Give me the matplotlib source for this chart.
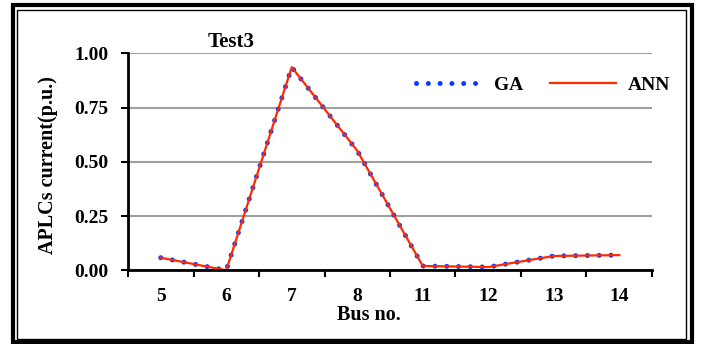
import numpy as np
import matplotlib
matplotlib.use("Agg")
import matplotlib.pyplot as plt
from matplotlib.patches import Rectangle

# data
buses = ['5', '6', '7', '8', '11', '12', '13', '14']
ga_current = [0.058, 0.0, 0.936, 0.551, 0.02, 0.015, 0.066, 0.07]
ann_current = [0.058, 0.0, 0.936, 0.551, 0.02, 0.015, 0.066, 0.07]

W, H = 704, 344
plt.rcParams['font.family'] = ['Liberation Serif', 'DejaVu Serif']
plt.rcParams['font.weight'] = 'bold'

fig = plt.figure(figsize=(W / 100, H / 100), dpi=100)
ax = fig.add_axes([128 / W, 1 - 270.3 / H, (652 - 128) / W, (270.3 - 53.3) / H])

x = np.arange(len(buses))
# GA: thick round-dot line, dots every ~11.7 px
ax.plot(x, ga_current, color='#0a3cff', lw=3.6, linestyle=(0, (0.01, 2.35)),
        dash_capstyle='round', label='GA', zorder=3)
ax.plot(x, ann_current, color='#ff2a00', lw=1.6, label='ANN', zorder=4)

ax.set_xlim(-0.5, len(buses) - 0.5)
ax.set_ylim(0, 1.0)
ax.set_yticks([0, 0.25, 0.5, 0.75, 1.0])
ax.set_yticklabels(['0.00', '0.25', '0.50', '0.75', '1.00'])
ax.set_xticks(x)
ax.set_xticklabels(buses)
ax.set_xticks(np.arange(-0.5, len(buses)), minor=True)
ax.tick_params(axis='x', which='major', length=0, pad=13, labelsize=14)
ax.tick_params(axis='x', which='minor', length=5, width=1.5, direction='out')
ax.tick_params(axis='y', length=5, width=1.5, direction='out', pad=9, labelsize=14)

ax.grid(axis='y', color='#a0a0a0', lw=1.5, zorder=0)
ax.set_axisbelow(True)
for s in ['top', 'right']:
    ax.spines[s].set_visible(False)
for s in ['left', 'bottom']:
    ax.spines[s].set_linewidth(2)
    ax.spines[s].set_zorder(5)

fig.text(369 / W, 1 - 315 / H, 'Bus no.', ha='center', va='center', fontsize=14.5, fontweight='bold')
fig.text(48 / W, 1 - 165 / H, 'APLCs current(p.u.)', ha='center', va='center',
         rotation=90, fontsize=14.5, fontweight='bold')
fig.text(231 / W, 1 - 42 / H, 'Test3', ha='center', va='center', fontsize=15, fontweight='bold')

ax.legend(loc='center left', bbox_to_anchor=(416 / W, 1 - 85 / H), bbox_transform=fig.transFigure,
          ncol=2, frameon=False, fontsize=14, handlelength=3.4, handletextpad=0.6,
          columnspacing=1.4, borderpad=0, borderaxespad=0)

# double frame around the chart
fig.patches.append(Rectangle((13 / W, 1 - 342.2 / H), (691.5 - 13) / W, (342.2 - 5.3) / H,
                             transform=fig.transFigure, fill=False, lw=3, ec='black'))
fig.patches.append(Rectangle((17.3 / W, 1 - 339 / H), (686 - 17.3) / W, (339 - 10) / H,
                             transform=fig.transFigure, fill=False, lw=1, ec='black'))

fig.savefig('out.png', dpi=100)
